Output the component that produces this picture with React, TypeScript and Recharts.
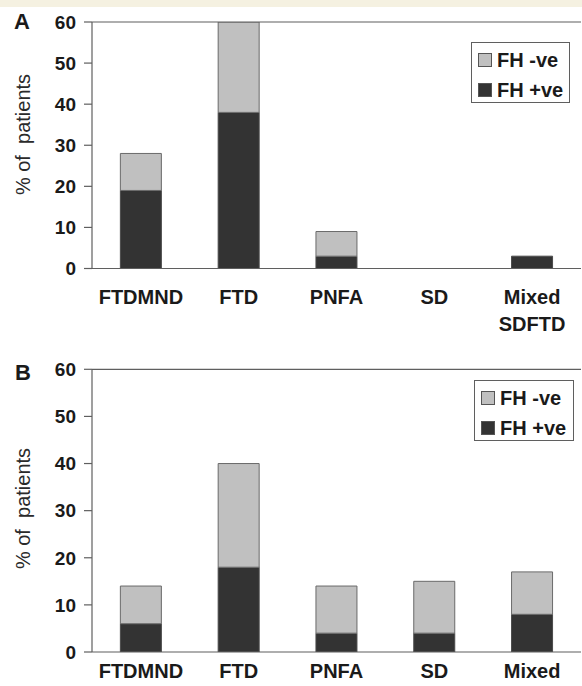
import React from 'react';
import { BarChart, Bar, XAxis, YAxis, ReferenceLine, Legend } from 'recharts';

const categoriesA = ['FTDMND', 'FTD', 'PNFA', 'SD', 'Mixed\nSDFTD'];
const fhPositiveA = [19, 38, 3, 0, 3];
const fhNegativeA = [9, 22, 6, 0, 0];

const categoriesB = ['FTDMND', 'FTD', 'PNFA', 'SD', 'Mixed'];
const fhPositiveB = [6, 18, 4, 4, 8];
const fhNegativeB = [8, 22, 10, 11, 9];

const yTicks = [0, 10, 20, 30, 40, 50, 60];
const boundaryTicks = [0, 1, 2, 3, 4, 5];
const positiveName = 'FH +ve';
const negativeName = 'FH -ve';
const yTitle = '% of  patients';

const FONT = '"Liberation Sans", Arial, Helvetica, sans-serif';
const DARK = '#333333';
const LIGHT = '#c0c0c0';
const AXIS = '#5f5f5f';
const TEXT = '#1a1a1a';

const build = (cats: string[], pos: number[], neg: number[]) =>
  cats.map((c, i) => ({ category: c, pos: pos[i], neg: neg[i] }));

const dataA = build(categoriesA, fhPositiveA, fhNegativeA);
const dataB = build(categoriesB, fhPositiveB, fhNegativeB);

const makeCategoryTick = (firstDy: number, lineGap: number) => (props: any) => {
  const { x, y, payload } = props;
  const lines = String(payload.value).split('\n');
  return (
    <text x={x} y={y} textAnchor="middle" fontFamily={FONT} fontWeight="bold" fontSize={20} fill={TEXT}>
      {lines.map((l, i) => (
        <tspan key={i} x={x} dy={i === 0 ? firstDy : lineGap}>
          {l}
        </tspan>
      ))}
    </text>
  );
};

const LegendBox = (props: any) => {
  const items = [...(props.payload || [])].reverse();
  return (
    <div
      style={{
        border: `1px solid ${AXIS}`,
        background: '#fff',
        boxSizing: 'border-box',
        width: '100%',
        height: '100%',
        padding: '2px 0 0 6px',
      }}
    >
      {items.map((it: any) => (
        <div key={it.value} style={{ display: 'flex', alignItems: 'center', height: 30 }}>
          <span
            style={{
              display: 'inline-block',
              width: 12,
              height: 12,
              background: it.color,
              border: '1px solid #555',
              marginRight: 5,
            }}
          />
          <span style={{ font: `bold 20px ${FONT}`, color: TEXT, lineHeight: '30px' }}>{it.value}</span>
        </div>
      ))}
    </div>
  );
};

type PanelProps = {
  data: any[];
  height: number;
  top: number;
  catHeight: number;
  labelDy: number;
  legendLeft: number;
  legendTop: number;
  legendWidth: number;
  legendHeight: number;
};

const Panel = ({ data, height, top, catHeight, labelDy, legendLeft, legendTop, legendWidth, legendHeight }: PanelProps) => (
  <BarChart
    width={582}
    height={height}
    data={data}
    margin={{ top, right: 1, left: 0, bottom: 0 }}
    barCategoryGap="29%"
  >
    <XAxis
      xAxisId="bounds"
      type="number"
      domain={[0, 5]}
      ticks={boundaryTicks}
      allowDataOverflow
      tick={false}
      tickSize={7}
      height={8}
      axisLine={{ stroke: AXIS, strokeWidth: 1.2 }}
      tickLine={{ stroke: AXIS, strokeWidth: 1.2 }}
    />
    <XAxis
      xAxisId="cat"
      dataKey="category"
      type="category"
      interval={0}
      height={catHeight}
      axisLine={false}
      tickLine={false}
      tickSize={0}
      tickMargin={0}
      tick={makeCategoryTick(labelDy, 27)}
    />
    <YAxis
      width={92}
      domain={[0, 60]}
      ticks={yTicks}
      interval={0}
      allowDataOverflow
      tickSize={8}
      tickMargin={8}
      axisLine={{ stroke: AXIS, strokeWidth: 1.2 }}
      tickLine={{ stroke: AXIS, strokeWidth: 1.2 }}
      tick={{ fontFamily: FONT, fontWeight: 'bold', fontSize: 19, fill: TEXT }}
    />
    <ReferenceLine xAxisId="cat" y={60} stroke={AXIS} strokeWidth={1.2} />
    <Legend
      layout="vertical"
      align="center"
      verticalAlign="middle"
      content={LegendBox}
      wrapperStyle={{ left: legendLeft, top: legendTop, width: legendWidth, height: legendHeight }}
    />
    <Bar
      xAxisId="cat"
      dataKey="pos"
      name={positiveName}
      stackId="s"
      fill={DARK}
      stroke="#4a4a4a"
      isAnimationActive={false}
    />
    <Bar
      xAxisId="cat"
      dataKey="neg"
      name={negativeName}
      stackId="s"
      fill={LIGHT}
      stroke="#6a6a6a"
      isAnimationActive={false}
    />
  </BarChart>
);

export default function App() {
  return (
    <div
      style={{
        position: 'absolute',
        left: 0,
        top: 0,
        width: 582,
        height: 686,
        background: '#ffffff',
        overflow: 'hidden',
      }}
    >
      <div style={{ position: 'absolute', left: 0, top: 0, width: 582, height: 7, background: '#f5f1e1' }} />
      <div style={{ position: 'absolute', left: 0, top: 0 }}>
        <Panel
          data={dataA}
          height={340}
          top={22}
          catHeight={63.5}
          labelDy={27}
          legendLeft={471}
          legendTop={42}
          legendWidth={99}
          legendHeight={61}
        />
      </div>
      <div style={{ position: 'absolute', left: 0, top: 340 }}>
        <Panel
          data={dataB}
          height={346}
          top={29.3}
          catHeight={26}
          labelDy={18}
          legendLeft={474}
          legendTop={40}
          legendWidth={100}
          legendHeight={61}
        />
      </div>
      <svg
        width={582}
        height={686}
        style={{ position: 'absolute', left: 0, top: 0, pointerEvents: 'none' }}
      >
        <text x={14} y={29} fontFamily={FONT} fontWeight="bold" fontSize={22} fill={TEXT}>
          A
        </text>
        <text x={15} y={380} fontFamily={FONT} fontWeight="bold" fontSize={22} fill={TEXT}>
          B
        </text>
        <text
          x={0}
          y={0}
          transform="translate(30 134.5) rotate(-90)"
          textAnchor="middle"
          fontFamily={FONT}
          fontSize={20}
          fill="#2a2a2a"
          style={{ whiteSpace: 'pre' }}
        >
          {yTitle}
        </text>
        <text
          x={0}
          y={0}
          transform="translate(30 508.5) rotate(-90)"
          textAnchor="middle"
          fontFamily={FONT}
          fontSize={20}
          fill="#2a2a2a"
          style={{ whiteSpace: 'pre' }}
        >
          {yTitle}
        </text>
      </svg>
    </div>
  );
}
